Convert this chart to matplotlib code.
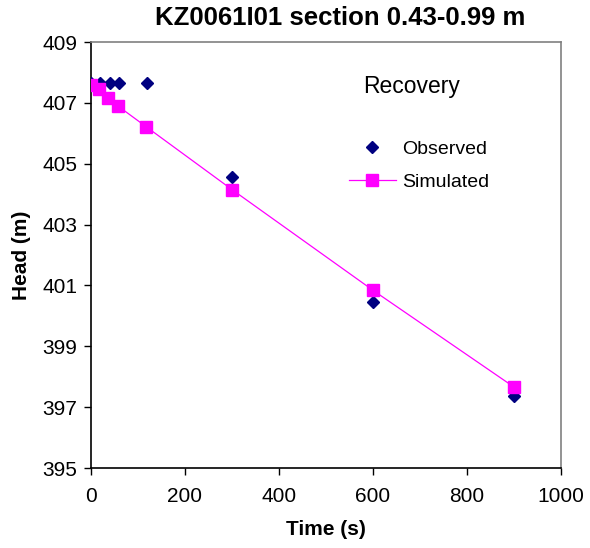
import matplotlib
matplotlib.use("Agg")
import matplotlib.pyplot as plt
from matplotlib.lines import Line2D

plt.rcParams["font.family"] = ["Liberation Sans", "DejaVu Sans"]

# values
obs_t = [0, 20, 40, 60, 120, 300, 600, 900]
obs_h = [407.64, 407.64, 407.64, 407.64, 407.64, 404.55, 400.45, 397.37]
sim_t = [0, 18, 37, 57, 117, 300, 600, 900]
sim_h = [407.59, 407.45, 407.17, 406.9, 406.22, 404.15, 400.84, 397.66]
x_ticks = [0, 200, 400, 600, 800, 1000]
y_ticks = [395, 397, 399, 401, 403, 405, 407, 409]

NAVY, MAG, GREY = "#000080", "#FF00FF", "#808080"

fig = plt.figure(figsize=(5.9, 5.48), dpi=100)
ax = fig.add_axes([91/590, 1 - 468/548, (561 - 91)/590, (468 - 42)/548])

ax.plot(obs_t, obs_h, ls="none", marker="D", ms=5.8, color=NAVY, zorder=3)
ax.plot(sim_t, sim_h, color=MAG, lw=0.9, marker="s", ms=8, zorder=4)

ax.set_xlim(0, 1000)
ax.set_ylim(395, 409)
ax.set_xticks(x_ticks)
ax.set_yticks(y_ticks)
ax.tick_params(direction="out", length=5, width=1, labelsize=15, pad=5)
ax.tick_params(axis="x", pad=9)
for s in ("top", "right"):
    ax.spines[s].set_color(GREY)
    ax.spines[s].set_linewidth(1.2)
for s in ("left", "bottom"):
    ax.spines[s].set_linewidth(1.2)

ax.set_xlabel("Time (s)", fontsize=15, fontweight="bold", labelpad=10)
ax.set_ylabel("Head (m)", fontsize=15, fontweight="bold", labelpad=8)

fig.text(340/590, 1 - 18/548, "KZ0061I01 section 0.43-0.99 m", ha="center", va="center",
         fontsize=18.5, fontweight="bold")

# legend block
fig.text(363/590, 1 - 87/548, "Recovery", ha="left", va="center", fontsize=16.5)
handles = [Line2D([], [], ls="none", marker="D", ms=5.8, color=NAVY),
           Line2D([], [], color=MAG, lw=0.9, marker="s", ms=8)]
ax.legend(handles, ["Observed", "Simulated"], loc="upper left",
          bbox_to_anchor=(349/590, 1 - 140/548), bbox_transform=fig.transFigure,
          frameon=False, fontsize=14, handlelength=2.4, handletextpad=0.35,
          labelspacing=0.8, borderpad=0, borderaxespad=0)

fig.savefig("out.png", dpi=100)
